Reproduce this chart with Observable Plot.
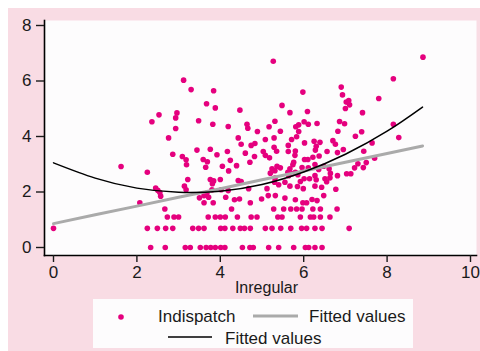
<!DOCTYPE html>
<html><head><meta charset="utf-8">
<script src="https://cdn.jsdelivr.net/npm/d3@7"></script>
<script src="https://cdn.jsdelivr.net/npm/@observablehq/plot@0.6"></script>
<style>
html,body{margin:0;padding:0;background:#fff;}
#bg{position:absolute;left:8px;top:8px;width:472px;height:343px;background:#f9dce4;}
#chart{position:absolute;left:0;top:0;}
#legend{position:absolute;left:93px;top:299px;width:320px;height:49px;background:#fdfcfd;}
#legend svg{display:block;}
</style></head><body>
<div id="bg"></div><div id="chart"></div><div id="legend"></div>
<script>
// Inregular (x) and Indispatch (y)
const inregular = [
3.12,3.30,3.84,3.67,3.88,2.53,2.96,2.93,2.36,3.48,
3.82,4.19,2.93,2.76,3.44,3.76,5.27,5.98,4.47,5.48,
5.67,6.09,4.64,4.66,5.17,5.31,5.81,5.88,6.01,6.11,
6.32,4.43,4.89,5.44,5.88,5.83,5.71,5.29,5.08,4.50,
4.74,4.83,5.63,6.02,6.25,6.39,6.30,5.29,6.28,5.80,
8.86,8.15,6.90,6.93,7.80,7.02,7.08,7.10,7.00,7.41,
6.86,6.98,8.15,6.82,7.39,7.24,8.28,6.70,6.76,7.64,
6.95,6.56,6.81,7.44,7.70,7.50,7.30,7.22,7.43,6.61,
6.64,6.63,6.55,6.81,7.03,7.13,6.77,6.48,6.80,6.63,
7.09,0.00,1.62,2.86,3.09,3.18,3.19,3.59,3.69,3.65,
3.92,4.05,4.24,2.25,4.20,3.22,3.76,3.84,3.81,4.00,
3.14,3.18,2.45,2.50,2.55,2.57,2.07,3.50,3.61,3.68,
3.72,3.80,3.61,3.83,4.02,4.13,2.67,2.73,2.89,3.00,
3.71,3.88,4.00,4.12,2.25,2.49,2.69,2.86,3.34,3.48,
3.61,4.01,4.11,2.33,2.68,3.16,3.28,3.52,3.66,3.77,
3.88,4.01,4.11,4.17,4.60,4.71,4.82,5.03,5.08,5.18,
5.35,5.63,5.79,6.02,6.10,6.22,6.37,4.39,5.24,5.31,
5.36,5.44,5.67,5.76,5.74,5.96,6.11,6.27,6.36,6.48,
4.43,4.50,5.20,5.31,5.62,5.64,5.72,5.80,5.86,6.01,
6.14,6.27,6.30,6.51,5.30,5.55,5.92,4.19,4.68,5.12,
5.40,5.67,5.85,5.99,6.27,6.43,4.34,4.46,4.27,4.72,
4.99,5.15,5.32,5.55,5.80,5.83,5.98,6.07,6.20,6.32,
5.28,5.52,5.69,5.96,6.22,6.40,4.41,4.74,4.88,5.38,
5.48,5.92,6.16,6.24,6.40,4.30,4.48,4.58,4.72,5.08,
5.24,5.45,5.69,5.95,6.07,6.27,6.44,4.53,4.71,5.16,
5.40,5.76,6.04,6.12,6.27,6.44,4.79
];
const indispatch = [
6.03,5.69,5.65,5.18,5.03,4.78,4.85,4.67,4.53,4.57,
4.44,4.36,4.29,3.95,3.51,3.54,6.71,5.60,4.95,5.12,
4.86,4.90,4.44,4.30,4.35,4.55,4.35,4.42,4.53,4.44,
4.47,3.95,4.18,4.19,4.18,3.99,3.89,3.95,3.89,3.72,
3.68,3.75,3.68,3.77,3.83,3.79,3.65,3.61,3.51,3.48,
6.86,6.08,5.78,5.50,5.37,5.24,5.30,5.14,5.01,4.86,
4.54,4.46,4.44,4.19,4.17,4.01,3.96,3.85,3.72,3.77,
3.53,3.46,3.42,3.47,3.22,3.06,3.02,2.87,2.88,2.84,
2.67,2.51,2.37,2.59,2.66,2.66,2.10,1.87,1.39,1.10,
0.69,0.69,2.92,3.36,3.28,3.16,2.98,3.17,3.09,2.89,
3.34,2.93,3.14,2.71,2.76,2.45,2.45,2.40,2.30,2.45,
2.21,2.08,2.14,2.06,1.98,1.85,1.61,1.79,1.87,1.96,
1.81,2.08,1.61,1.61,2.08,1.81,1.39,1.10,1.10,1.10,
1.10,1.10,1.10,1.10,0.69,0.69,0.69,0.69,0.69,0.69,
0.69,0.69,0.69,0,0,0,0,0,0,0,
0,0,0,3.46,3.40,3.07,3.28,3.46,3.32,3.23,
3.47,3.46,3.32,3.17,3.17,3.25,3.30,2.95,2.84,2.77,
2.93,2.87,2.84,3.07,2.98,2.88,2.87,2.99,2.81,2.93,
2.41,2.38,2.68,2.50,2.71,2.59,2.66,2.71,2.62,2.48,
2.48,2.59,2.44,2.48,2.35,2.35,2.38,2.05,2.12,2.12,
2.26,2.21,2.20,2.12,2.21,2.17,1.72,1.75,1.39,1.61,
1.75,1.87,1.87,1.78,1.72,1.39,1.61,1.61,1.73,1.69,
1.39,1.39,1.39,1.39,1.39,1.39,1.10,1.10,1.10,1.10,
1.10,1.10,1.10,1.10,1.10,0.69,0.69,0.69,0.69,0.69,
0.69,0.69,0.69,0.69,0.69,0.69,0.69,0,0,0,
0,0,0,0,0,0,0
];
// Fitted values
const fitX = [0,1,2,3,4,5,6,7,8,8.85];
const linearFit = [0.86,1.18,1.49,1.81,2.12,2.44,2.76,3.07,3.39,3.66];
const quadraticFit = [3.05,2.50,2.14,1.99,2.03,2.27,2.72,3.36,4.19,5.06];
const xTicks = [0,2,4,6,8,10];
const yTicks = [0,2,4,6,8];
const xLabel = "Inregular";
const legendLabels = ["Indispatch","Fitted values","Fitted values"];

const pts = inregular.map((x,i)=>({x, y: indispatch[i]}));
const lin = fitX.map((x,i)=>({x, y: linearFit[i]}));
const quad = fitX.map((x,i)=>({x, y: quadraticFit[i]}));

const dotColor = "#e5007e";
const font = "'Liberation Sans', Arial, sans-serif";

const chart = Plot.plot({
  width: 480, height: 300,
  marginLeft: 44, marginRight: 4, marginTop: 20, marginBottom: 45,
  style: {background: "transparent", fontFamily: font, fontSize: "17px", color: "#1a1a1a"},
  x: {domain: [0,10], range: [53,470]},
  y: {domain: [0,8], range: [247,25]},
  marks: [
    Plot.frame({fill: "#fdfcfd", stroke: "none"}),
    Plot.dot(pts, {x: "x", y: "y", r: 2.8, fill: dotColor, stroke: "none"}),
    Plot.line(lin, {x: "x", y: "y", stroke: "#aaaaaa", strokeWidth: 3, curve: "linear"}),
    Plot.line(quad, {x: "x", y: "y", stroke: "#000", strokeWidth: 1.5, curve: "natural"}),
    Plot.frame({anchor: "left", stroke: "#000", strokeWidth: 1.6}),
    Plot.frame({anchor: "bottom", stroke: "#000", strokeWidth: 1.6}),
    Plot.axisY({ticks: yTicks, tickSize: 8, tickPadding: 5, label: null, fontSize: 17, strokeWidth: 1.4, tickFormat: d => String(d)}),
    Plot.axisX({ticks: xTicks, tickSize: 7, tickPadding: 3, label: null, fontSize: 17, strokeWidth: 1.4, tickFormat: d => String(d)}),
    Plot.text([xLabel], {frameAnchor: "bottom", dx: 6, dy: 37, lineAnchor: "bottom", fontSize: 16, text: d => d})
  ]
});
document.getElementById("chart").appendChild(chart);

// Legend
const ns = "http://www.w3.org/2000/svg";
const lg = document.createElementNS(ns, "svg");
lg.setAttribute("width", 320); lg.setAttribute("height", 49);
lg.style.fontFamily = font; lg.style.fontSize = "17px";
function el(tag, attrs, txt){ const e = document.createElementNS(ns, tag); for (const k in attrs) e.setAttribute(k, attrs[k]); if (txt) e.textContent = txt; lg.appendChild(e); return e; }
el("circle", {cx: 28, cy: 18, r: 2.8, fill: dotColor});
el("text", {x: 65, y: 23, fill: "#1a1a1a"}, legendLabels[0]);
el("line", {x1: 160, x2: 205, y1: 17, y2: 17, stroke: "#aaaaaa", "stroke-width": 3});
el("text", {x: 216, y: 23, fill: "#1a1a1a"}, legendLabels[1]);
el("line", {x1: 75, x2: 119, y1: 38, y2: 38, stroke: "#000", "stroke-width": 1.5});
el("text", {x: 132, y: 45, fill: "#1a1a1a"}, legendLabels[2]);
document.getElementById("legend").appendChild(lg);
</script>
</body></html>
